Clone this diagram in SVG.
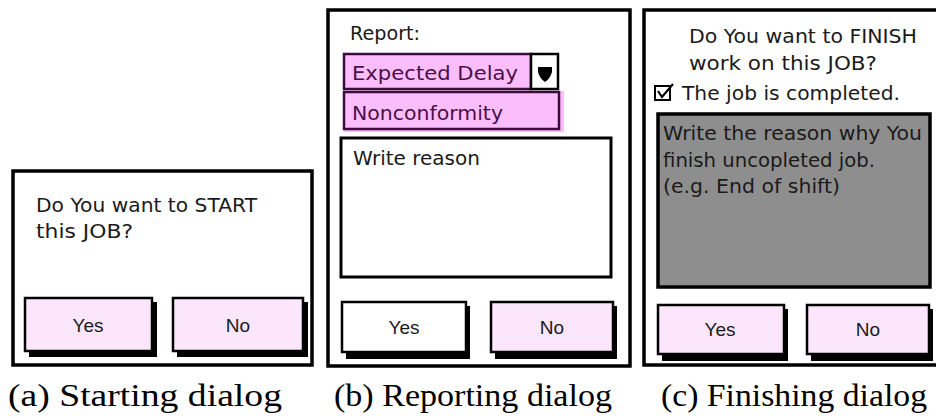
<svg xmlns="http://www.w3.org/2000/svg" width="936" height="418" viewBox="0 0 936 418">
  <style>
    .panel { fill: #ffffff; stroke: #000000; stroke-width: 3.5; }
    .ui { font-family: "DejaVu Sans", "Open Sans", sans-serif; font-size: 20px; fill: #1a1a1a; }
    .btn { font-family: "Liberation Sans", Arial, sans-serif; font-size: 19px; fill: #1a1a1a; text-anchor: middle; }
    .shadow { fill: #000000; }
    .btn-pink { fill: #fce6fc; stroke: #000000; stroke-width: 2.5; }
    .btn-white { fill: #ffffff; stroke: #000000; stroke-width: 2.5; }
    .field { fill: #ffffff; stroke: #000000; stroke-width: 3; }
    .sel { fill: #fcbdfc; stroke: #3a0c3a; stroke-width: 2.5; }
    .sel-text { font-family: "DejaVu Sans", "Open Sans", sans-serif; font-size: 20px; fill: #4a1048; }
    .caption { font-family: "Liberation Serif", "DejaVu Serif", serif; font-size: 31px; fill: #000000; }
  </style>

  <!-- (a) starting dialog -->
  <g id="dialog-start">
    <rect class="panel" x="13" y="171" width="299" height="194"/>
    <text class="ui" x="36" y="212" textLength="221" lengthAdjust="spacingAndGlyphs">Do You want to START</text>
    <text class="ui" x="36" y="238" textLength="97" lengthAdjust="spacingAndGlyphs">this JOB?</text>
    <g id="start-yes">
      <rect class="shadow" x="29" y="302" width="128" height="55"/>
      <rect class="btn-pink" x="25" y="298" width="127" height="53"/>
      <text class="btn" x="88" y="332">Yes</text>
    </g>
    <g id="start-no">
      <rect class="shadow" x="177" y="302" width="131" height="55"/>
      <rect class="btn-pink" x="173" y="298" width="130" height="53"/>
      <text class="btn" x="238" y="332">No</text>
    </g>
  </g>

  <!-- (b) reporting dialog -->
  <g id="dialog-report">
    <rect class="panel" x="328" y="10" width="302" height="356"/>
    <text class="ui" x="350" y="40" textLength="70" lengthAdjust="spacingAndGlyphs">Report:</text>
    <g id="report-select">
      <rect class="sel" x="344" y="54" width="187" height="35"/>
      <rect fill="#ffffff" stroke="#000000" stroke-width="2.5" x="531" y="54" width="27" height="35"/>
      <path d="M538,67 L552,67 L552,72 Q550,79 545,82 Q540,79 538,72 Z" fill="#000000"/>
      <text class="sel-text" x="352" y="80" textLength="166" lengthAdjust="spacingAndGlyphs">Expected Delay</text>
    </g>
    <g id="report-option">
      <rect fill="#fcbdfc" x="344" y="91" width="220" height="41"/>
      <rect class="sel" x="344" y="92" width="215" height="37"/>
      <text class="sel-text" x="352" y="120" textLength="151" lengthAdjust="spacingAndGlyphs">Nonconformity</text>
    </g>
    <g id="report-reason">
      <rect class="field" x="341" y="138" width="270" height="139"/>
      <text class="ui" x="353" y="165" textLength="127" lengthAdjust="spacingAndGlyphs">Write reason</text>
    </g>
    <g id="report-yes">
      <rect class="shadow" x="346" y="306" width="124" height="53"/>
      <rect class="btn-white" x="342" y="302" width="124" height="50"/>
      <text class="btn" x="404" y="334">Yes</text>
    </g>
    <g id="report-no">
      <rect class="shadow" x="495" y="306" width="122" height="53"/>
      <rect class="btn-pink" x="491" y="302" width="122" height="50"/>
      <text class="btn" x="552" y="334">No</text>
    </g>
  </g>

  <!-- (c) finishing dialog; its right border runs past the canvas edge -->
  <g id="dialog-finish">
    <rect class="panel" x="644" y="10" width="300" height="355"/>
    <text class="ui" x="689" y="43" textLength="228" lengthAdjust="spacingAndGlyphs">Do You want to FINISH</text>
    <text class="ui" x="689" y="70" textLength="188" lengthAdjust="spacingAndGlyphs">work on this JOB?</text>
    <g id="finish-check">
      <rect fill="#ffffff" stroke="#000000" stroke-width="2" x="655" y="86" width="15" height="14"/>
      <path d="M658,91 L662,97 L673,84" fill="none" stroke="#000000" stroke-width="2.2"/>
      <text class="ui" x="682" y="100" textLength="218" lengthAdjust="spacingAndGlyphs">The job is completed.</text>
    </g>
    <g id="finish-reason">
      <rect fill="#8e8e8e" stroke="#000000" stroke-width="3.5" x="658" y="114" width="272" height="173"/>
      <text class="ui" x="663" y="140" textLength="259" lengthAdjust="spacingAndGlyphs">Write the reason why You</text>
      <text class="ui" x="663" y="167" textLength="212" lengthAdjust="spacingAndGlyphs">finish uncopleted job.</text>
      <text class="ui" x="663" y="193" textLength="177" lengthAdjust="spacingAndGlyphs">(e.g. End of shift)</text>
    </g>
    <g id="finish-yes">
      <rect class="shadow" x="662" y="309" width="126" height="52"/>
      <rect class="btn-pink" x="658" y="305" width="126" height="49"/>
      <text class="btn" x="720" y="336">Yes</text>
    </g>
    <g id="finish-no">
      <rect class="shadow" x="811" y="309" width="122" height="52"/>
      <rect class="btn-pink" x="807" y="305" width="122" height="49"/>
      <text class="btn" x="868" y="336">No</text>
    </g>
  </g>

  <!-- sub-figure captions -->
  <g id="captions">
    <text class="caption" x="8" y="406" textLength="274" lengthAdjust="spacingAndGlyphs">(a) Starting dialog</text>
    <text class="caption" x="334" y="406" textLength="278" lengthAdjust="spacingAndGlyphs">(b) Reporting dialog</text>
    <text class="caption" x="661" y="406" textLength="266" lengthAdjust="spacingAndGlyphs">(c) Finishing dialog</text>
  </g>
</svg>
